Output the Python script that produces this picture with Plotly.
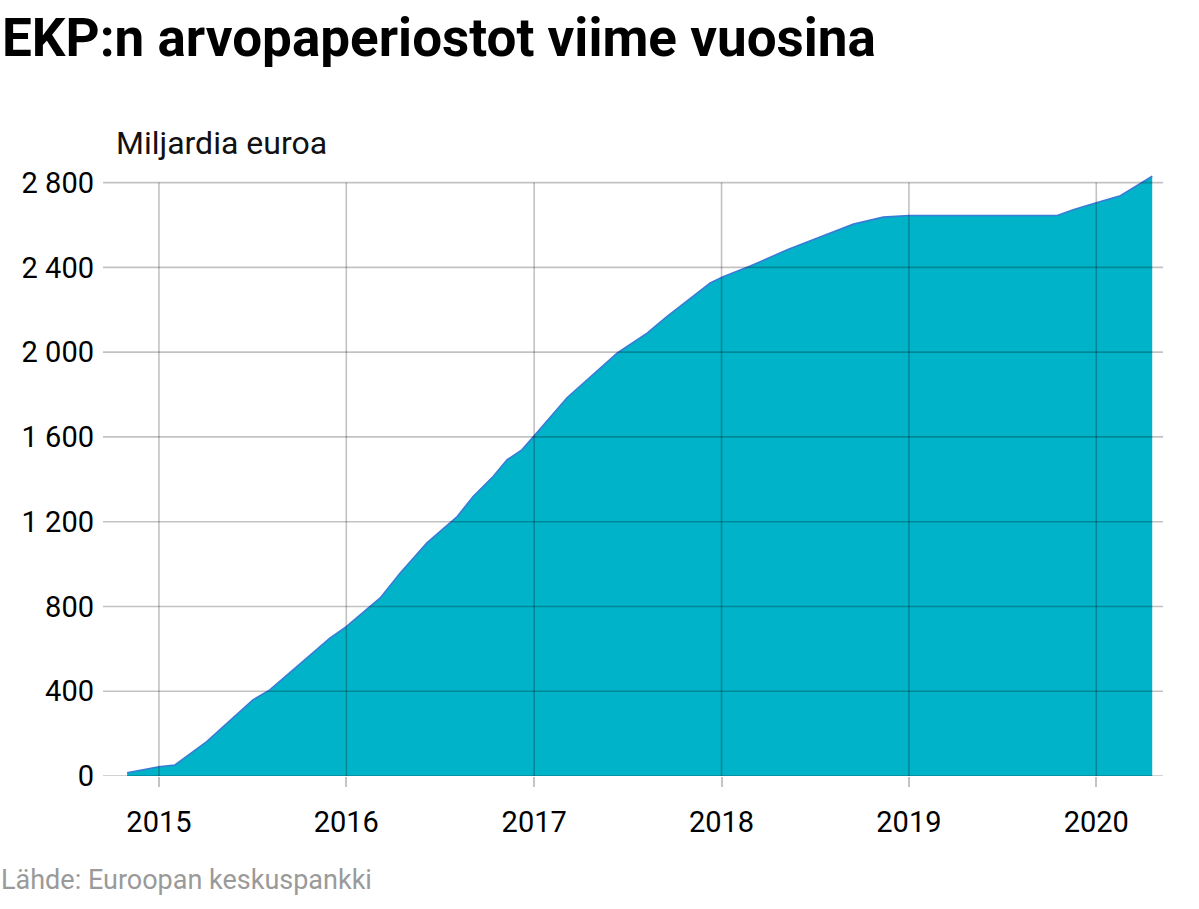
import plotly.graph_objects as go

# Data (billions of euro)
dates = [
    "2014-10-31", "2015-01-01", "2015-02-01", "2015-04-04", "2015-07-03",
    "2015-08-05", "2015-11-30", "2016-01-01", "2016-03-07", "2016-04-15",
    "2016-06-06", "2016-08-04", "2016-09-04", "2016-10-13", "2016-11-09",
    "2016-12-08", "2017-01-01", "2017-03-06", "2017-06-12", "2017-08-09",
    "2017-09-17", "2017-11-15", "2017-12-10", "2018-01-03", "2018-02-26",
    "2018-05-09", "2018-08-07", "2018-09-15", "2018-11-12", "2019-01-01",
    "2019-10-17", "2019-11-17", "2020-01-01", "2020-02-17", "2020-04-19",
]
values = [
    15, 44, 52, 162, 359,
    406, 651, 705, 840, 958,
    1100, 1224, 1319, 1413, 1492,
    1539, 1605, 1785, 1996, 2090,
    2169, 2279, 2326, 2355, 2406,
    2483, 2570, 2604, 2637, 2645,
    2645, 2672, 2705, 2738, 2830,
]

year_ticks = ["2015-01-01", "2016-01-01", "2017-01-01", "2018-01-01", "2019-01-01", "2020-01-01"]
year_labels = ["2015", "2016", "2017", "2018", "2019", "2020"]
y_ticks = [0, 400, 800, 1200, 1600, 2000, 2400, 2800]
y_labels = ["0", "400", "800", "1 200", "1 600", "2 000", "2 400", "2 800"]

title_text = "EKP:n arvopaperiostot viime vuosina"
unit_text = "Miljardia euroa"
source_text = "Lähde: Euroopan keskuspankki"

FONT = "Roboto"
FILL = "#00b3c8"
LINE = "#3a7bd5"
GRID = "rgba(0,0,0,0.24)"

fig = go.Figure()
fig.add_trace(go.Scatter(
    x=dates, y=values, mode="lines", fill="tozeroy",
    fillcolor=FILL, line=dict(color=LINE, width=1.6),
    hoverinfo="skip", showlegend=False,
))

shapes = []
for v in y_ticks:
    shapes.append(dict(type="line", xref="paper", yref="y", x0=0, x1=1, y0=v, y1=v,
                       line=dict(color=GRID, width=1.6), layer="above"))
for d in year_ticks:
    shapes.append(dict(type="line", xref="x", yref="y", x0=d, x1=d, y0=0, y1=max(y_ticks),
                       line=dict(color=GRID, width=1.6), layer="above"))

L, R, T, B = 103, 36, 172, 133
W, H = 1199, 909
pw, ph = W - L - R, H - T - B

def px(X):
    return (X - L) / pw

def py(Y):
    return (H - B - Y) / ph

annotations = [
    dict(text=f"<b>{title_text}</b>", xref="paper", yref="paper", x=px(0), y=py(38),
         xanchor="left", yanchor="middle", showarrow=False,
         font=dict(family=FONT, size=53, color="#000")),
    dict(text=unit_text, xref="paper", yref="paper", x=px(114), y=py(143),
         xanchor="left", yanchor="middle", showarrow=False,
         font=dict(family=FONT, size=32, color="#111")),
    dict(text=source_text, xref="paper", yref="paper", x=px(-1), y=py(880),
         xanchor="left", yanchor="middle", showarrow=False,
         font=dict(family=FONT, size=27, color="#9a9a9a")),
]

fig.update_layout(
    width=W, height=H,
    margin=dict(l=L, r=R, t=T, b=B, pad=0),
    paper_bgcolor="white", plot_bgcolor="white",
    shapes=shapes, annotations=annotations,
    xaxis=dict(
        type="date", range=["2014-09-14", "2020-05-10"],
        tickvals=year_ticks, ticktext=year_labels,
        showgrid=False, zeroline=False, showline=False,
        ticks="outside", ticklen=10, tickwidth=2, tickcolor="#c4c4c4",
        tickfont=dict(family=FONT, size=29, color="#000"),
        ticklabelstandoff=10, fixedrange=True,
    ),
    yaxis=dict(
        range=[0, 2850], tickvals=y_ticks, ticktext=y_labels,
        showgrid=False, zeroline=False, showline=False, ticks="",
        tickfont=dict(family=FONT, size=29, color="#000"),
        ticklabelstandoff=8, fixedrange=True,
    ),
)

fig.write_html("out.html", config={"displayModeBar": False},
               post_script="document.body.style.margin='0';document.body.style.overflow='hidden';")
